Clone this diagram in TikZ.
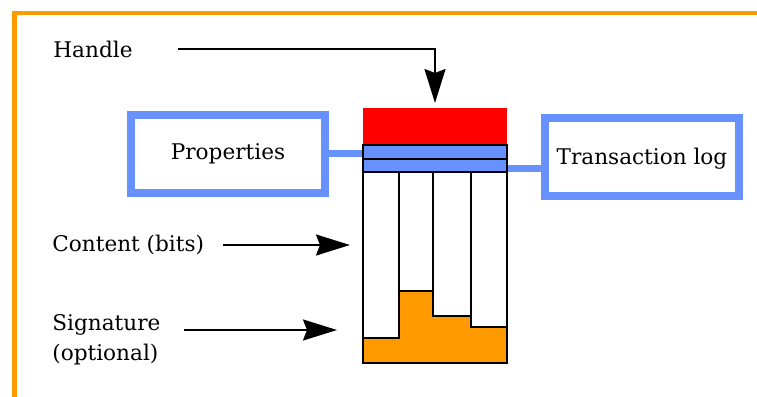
\documentclass[tikz,border=0pt]{standalone}
\usepackage{fontspec}
\setmainfont{DejaVu Serif}
\usetikzlibrary{arrows.meta}
\definecolor{frameorange}{RGB}{255,153,0}
\definecolor{boxblue}{RGB}{102,145,255}
\definecolor{sigorange}{RGB}{255,153,0}
\begin{document}
\begin{tikzpicture}[x=0.5pt,y=-0.5pt,
  lbl/.style={font=\fontsize{10.8}{15}\selectfont, inner sep=0pt},
  bluebox/.style={draw=boxblue, line width=4pt, fill=white, minimum width=97pt,
    minimum height=39pt, inner sep=0pt, font=\fontsize{10.8}{15}\selectfont},
  blueline/.style={draw=boxblue, line width=3.5pt},
  part/.style={anchor=north west, inner sep=0pt, outer sep=0pt, draw=black, line width=1pt},
  arr/.style={draw=black, line width=1pt, -{Stealth[length=17pt, width=10.5pt, inset=2pt]}}]
\useasboundingbox (0,0) rectangle (757,397);
% orange frame
\fill[frameorange] (12,10.5) rectangle (757,14.5);
\fill[frameorange] (12,10.5) rectangle (16.5,397);
% connectors to boxes (drawn first)
\coordinate (propsE) at (329,153);
\coordinate (stackL) at (363,153);
\draw[blueline] (propsE) -- (stackL);
\coordinate (stackR) at (507,168);
\coordinate (transW) at (541,168);
\draw[blueline] (stackR) -- (transW);
% side boxes
\node[bluebox] (props) at (228,153.5) {Properties};
\node[bluebox, text depth=0pt] (trans) at (642,156.5) {Transaction log};
% stack
\node[part, draw=none, fill=red, minimum width=72pt, minimum height=18.5pt] (red) at (363,108) {};
\node[part, fill=boxblue, minimum width=72pt, minimum height=7pt] (band1) at (363,145) {};
\node[part, fill=boxblue, minimum width=72pt, minimum height=6.5pt] (band2) at (363,159) {};
\node[part, fill=white, minimum width=18pt, minimum height=95.5pt] (col1) at (363,172) {};
\node[part, fill=white, minimum width=17pt, minimum height=95.5pt] (col2) at (399,172) {};
\node[part, fill=white, minimum width=19pt, minimum height=95.5pt] (col3) at (433,172) {};
\node[part, fill=white, minimum width=18pt, minimum height=95.5pt] (col4) at (471,172) {};
\draw[fill=sigorange, line width=1pt, line join=miter]
  (363,363) -- (363,338) -- (399,338) -- (399,291) -- (433,291) -- (433,316)
  -- (471,316) -- (471,327) -- (507,327) -- (507,363) -- cycle;
% labels
\node[lbl, anchor=west] (handle) at (53,49) {Handle};
\node[lbl, anchor=west] (content) at (52,245) {Content (bits)};
\node[lbl, anchor=west, align=left] (sig) at (52,340) {Signature\\(optional)};
% arrows
\coordinate (hstart) at (178,49);
\draw[arr, shorten >=2.5pt] (hstart) -| (red.north);
\coordinate (cstart) at (223,245);
\draw[arr, shorten >=6.5pt] (cstart) -- (cstart -| col1.west);
\coordinate (sstart) at (184,330);
\draw[arr, shorten >=13pt] (sstart) -- (sstart -| col1.west);
\end{tikzpicture}
\end{document}
